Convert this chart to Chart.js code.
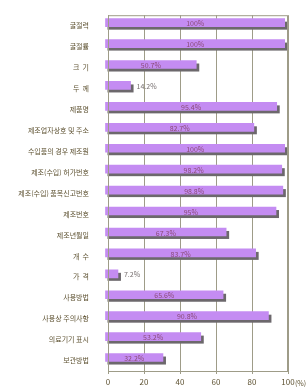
<!DOCTYPE html>
<html>
<head>
<meta charset="utf-8">
<script src="https://cdn.jsdelivr.net/npm/chart.js@4"></script>
<style>
  html, body { margin: 0; padding: 0; background: #fff; }
  #wrap { width: 306px; height: 392px; }
</style>
</head>
<body>
<div id="wrap"><canvas id="chart" width="306" height="392"></canvas></div>
<script>
const categories = [
  '굴절력', '굴절률', '크  기', '두  께', '제품명',
  '제조업자상호 및 주소', '수입품의 경우 제조원', '제조(수입) 허가번호',
  '제조(수입) 품목신고번호', '제조번호', '제조년월일', '개  수',
  '가  격', '사용방법', '사용상 주의사항', '의료기기 표시', '보관방법'
];
const values = [100, 100, 50.7, 14.2, 95.4, 82.7, 100, 98.2, 98.8, 95, 67.3, 83.7, 7.2, 65.6, 90.8, 53.2, 32.2];
const xTicks = [0, 20, 40, 60, 80, 100];

const faceColor   = '#c48cf2';
const shadowColor = '#6c686c';
const textColor   = '#5e5232';
const gridColor   = '#9e9c88';
const font = "'Noto Sans CJK KR', 'Noto Sans', sans-serif";

// 앞면을 왼쪽 위로 밀고 뒤에 회색 그림자를 깔아 입체 막대처럼
const shadowBars = {
  id: 'shadowBars',
  beforeDatasetDraw(chart) {
    const { ctx } = chart;
    const meta = chart.getDatasetMeta(0);
    ctx.save();
    ctx.fillStyle = shadowColor;
    meta.data.forEach(el => {
      const h = el.height;
      ctx.fillRect(el.base - 1, el.y - h / 2, el.x - el.base + 1, h);
    });
    ctx.restore();
    ctx.save();
    ctx.translate(-3, -3);
  },
  afterDatasetDraw(chart) {
    chart.ctx.restore();
  }
};

const frameAndLabels = {
  id: 'frameAndLabels',
  afterDraw(chart) {
    const { ctx, chartArea: { left, right, top, bottom } } = chart;
    ctx.save();
    ctx.strokeStyle = gridColor;
    ctx.lineWidth = 1;
    ctx.strokeRect(left + 0.5, top + 0.5, right - left - 1, bottom - top);

    const meta = chart.getDatasetMeta(0);
    ctx.font = `7px ${font}`;
    ctx.textBaseline = 'middle';
    meta.data.forEach((el, i) => {
      const v = values[i];
      const txt = `${v}%`;
      const cy = el.y - 3;
      if (v < 20) {
        ctx.textAlign = 'left';
        ctx.fillStyle = '#777070';
        ctx.fillText(txt, el.x + 3, cy + 1);
      } else {
        ctx.textAlign = 'center';
        ctx.fillStyle = '#8a4a78';
        ctx.fillText(txt, (el.base + el.x) / 2 - 3, cy + 1);
      }
    });

    ctx.font = `7px ${font}`;
    ctx.textAlign = 'left';
    ctx.fillStyle = textColor;
    ctx.fillText('(%)', 295, bottom + 12);
    ctx.restore();
  }
};

new Chart(document.getElementById('chart'), {
  type: 'bar',
  data: {
    labels: categories,
    datasets: [{
      data: values,
      backgroundColor: faceColor,
      borderWidth: 0,
      barThickness: 8
    }]
  },
  options: {
    indexAxis: 'y',
    responsive: false,
    animation: false,
    layout: { padding: { top: 5, right: 18, left: 0, bottom: 0 } },
    plugins: {
      legend: { display: false },
      tooltip: { enabled: false }
    },
    scales: {
      x: {
        min: 0,
        max: 100,
        afterBuildTicks(scale) { scale.ticks = xTicks.map(v => ({ value: v })); },
        afterFit(scale) { scale.height = 21; },
        grid: { color: gridColor, tickLength: 3, drawTicks: true },
        border: { color: gridColor },
        ticks: { color: textColor, font: { family: font, size: 8 }, padding: 3, maxRotation: 0 }
      },
      y: {
        afterFit(scale) { scale.width = 108; },
        grid: { display: false },
        border: { color: gridColor },
        ticks: { color: textColor, font: { family: font, size: 7 }, padding: 11, autoSkip: false }
      }
    }
  },
  plugins: [shadowBars, frameAndLabels]
});
</script>
</body>
</html>
